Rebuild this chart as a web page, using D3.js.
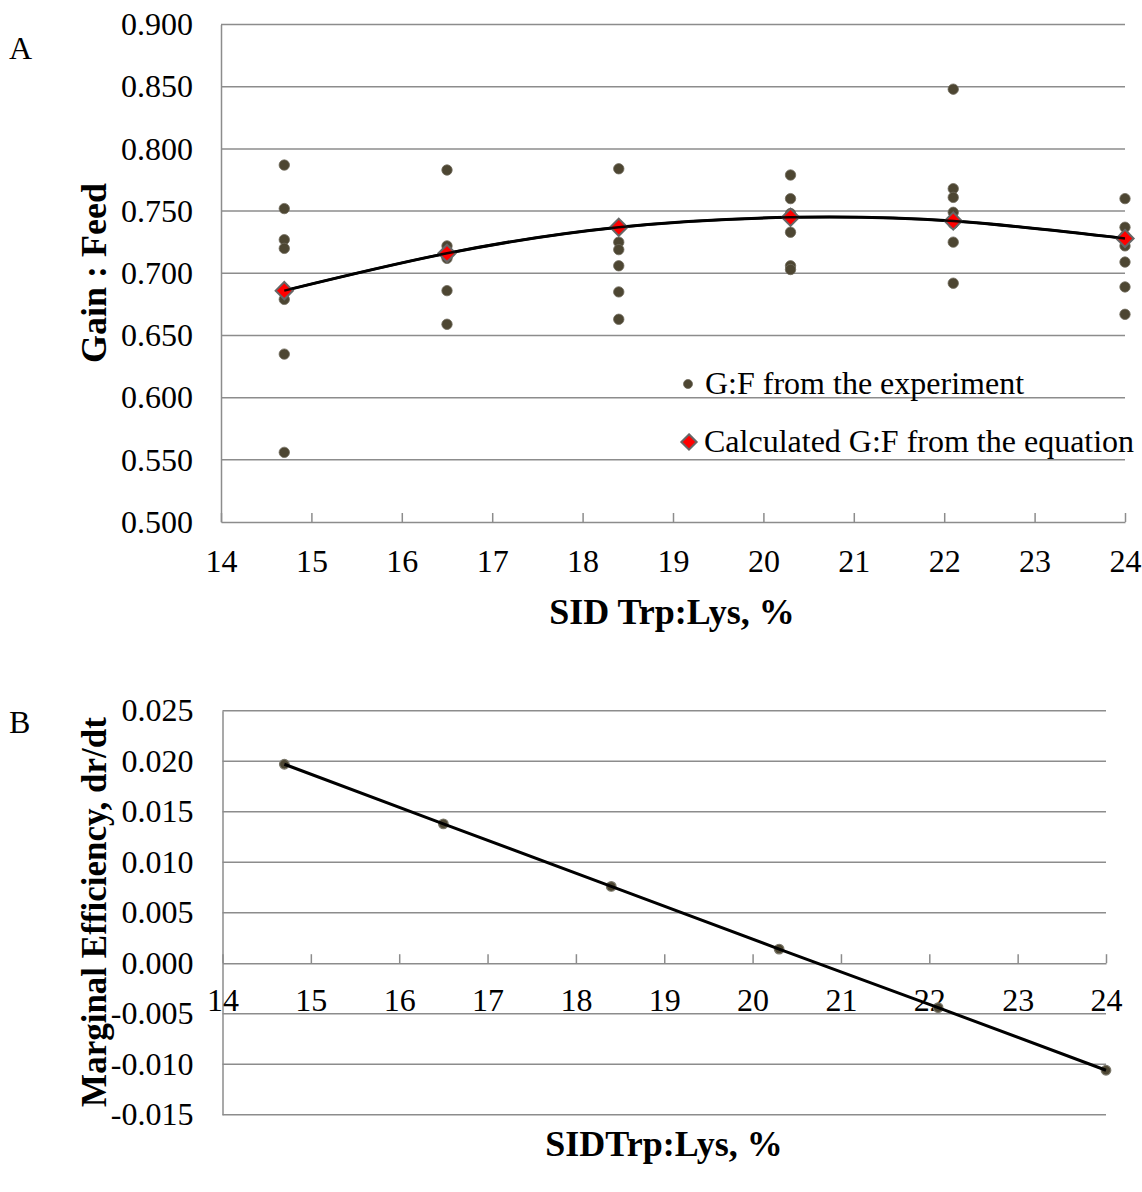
<!DOCTYPE html>
<html>
<head>
<meta charset="utf-8">
<script src="https://cdn.jsdelivr.net/npm/d3@7"></script>
<style>
  html, body { margin: 0; padding: 0; background: #fff; }
  svg { display: block; }
  text { font-family: "Liberation Serif", "Times New Roman", serif; fill: #000; }
</style>
</head>
<body>
<svg id="chart" width="1142" height="1192"></svg>
<script>
// ---------- DATA ----------
const trpLys = [14.7, 16.5, 18.4, 20.3, 22.1, 24.0];
const gfExp_14_7 = [0.787, 0.752, 0.727, 0.720, 0.679, 0.635, 0.556];
const gfExp_16_5 = [0.783, 0.722, 0.718, 0.714, 0.712, 0.686, 0.659];
const gfExp_18_4 = [0.784, 0.738, 0.725, 0.719, 0.706, 0.685, 0.663];
const gfExp_20_3 = [0.779, 0.760, 0.748, 0.733, 0.706, 0.703];
const gfExp_22_1 = [0.848, 0.768, 0.761, 0.749, 0.740, 0.725, 0.692];
const gfExp_24_0 = [0.760, 0.737, 0.730, 0.722, 0.709, 0.689, 0.667];
const gfExperiment = [gfExp_14_7, gfExp_16_5, gfExp_18_4, gfExp_20_3, gfExp_22_1, gfExp_24_0];
const gfCalculated = [0.686, 0.716, 0.737, 0.745, 0.742, 0.728];
const marginalEff = [0.0197, 0.0138, 0.0076, 0.0014, -0.0044, -0.0106];
const xTicks = [14, 15, 16, 17, 18, 19, 20, 21, 22, 23, 24];
const yTicksA = [0.500, 0.550, 0.600, 0.650, 0.700, 0.750, 0.800, 0.850, 0.900];
const yTicksB = [-0.015, -0.010, -0.005, 0.000, 0.005, 0.010, 0.015, 0.020, 0.025];
const legendLabels = ["G:F from the experiment", "Calculated G:F from the equation"];

// ---------- STYLE ----------
const gridColor = "#8c8c8c";
const dotFill = "#4d4632";
const fmt = v => d3.format(".3f")(v).replace("\u2212", "-");

const svg = d3.select("#chart");

// ================= PANEL A =================
const xA = d3.scaleLinear().domain([14, 24]).range([221, 1125]);
const yA = d3.scaleLinear().domain([0.5, 0.9]).range([522, 24.5]);
const gA = svg.append("g");

// gridlines
gA.append("g").selectAll("line").data(yTicksA.filter(d => d > 0.5)).join("line")
  .attr("x1", xA(14)).attr("x2", xA(24))
  .attr("y1", d => yA(d)).attr("y2", d => yA(d))
  .attr("stroke", gridColor).attr("stroke-width", 1.5);

// y axis
const yAxisA = gA.append("g").attr("transform", `translate(${xA(14)},0)`)
  .call(d3.axisLeft(yA).tickValues(yTicksA).tickSize(0).tickPadding(28).tickFormat(fmt));
yAxisA.select(".domain").attr("stroke", gridColor).attr("stroke-width", 1.5);
yAxisA.selectAll("text").attr("font-size", 32).attr("font-family", "Liberation Serif").attr("fill", "#000");

// x axis
const xAxisA = gA.append("g").attr("transform", `translate(0,${yA(0.5)})`)
  .call(d3.axisBottom(xA).tickValues(xTicks).tickSize(0).tickPadding(0).tickFormat(d3.format("d")));
xAxisA.select(".domain").attr("stroke", gridColor).attr("stroke-width", 1.5);
xAxisA.selectAll(".tick line").attr("y2", -9).attr("stroke", gridColor).attr("stroke-width", 1.5);
xAxisA.selectAll("text").attr("font-size", 32).attr("font-family", "Liberation Serif").attr("fill", "#000")
  .attr("dy", null).attr("y", 50);

// observed dots
const obsPts = [];
trpLys.forEach((x, i) => gfExperiment[i].forEach(v => obsPts.push([x, v])));
gA.append("g").selectAll("circle").data(obsPts).join("circle")
  .attr("cx", d => xA(d[0])).attr("cy", d => yA(d[1])).attr("r", 5.2)
  .attr("fill", dotFill).attr("stroke", "#6e6a5c").attr("stroke-width", 0.8);

// fitted curve
const calcPts = trpLys.map((x, i) => [x, gfCalculated[i]]);
gA.append("path").datum(calcPts)
  .attr("d", d3.line().x(d => xA(d[0])).y(d => yA(d[1])).curve(d3.curveNatural))
  .attr("fill", "none").attr("stroke", "#000").attr("stroke-width", 3);

// diamonds
const diamond = d3.symbol().type(d3.symbolDiamond2).size(190);
gA.append("g").selectAll("path").data(calcPts).join("path")
  .attr("transform", d => `translate(${xA(d[0])},${yA(d[1])}) rotate(0)`)
  .attr("d", diamond)
  .attr("fill", "#ff0000").attr("stroke", "#666").attr("stroke-width", 2);
// redraw line segment over diamonds center lightly (line passes through)
gA.append("path").datum(calcPts)
  .attr("d", d3.line().x(d => xA(d[0])).y(d => yA(d[1])).curve(d3.curveNatural))
  .attr("fill", "none").attr("stroke", "#000").attr("stroke-width", 2.5).attr("opacity", 0.9);

// legend
const lg = gA.append("g");
lg.append("circle").attr("cx", 688).attr("cy", 384).attr("r", 4.5)
  .attr("fill", dotFill).attr("stroke", "#6e6a5c").attr("stroke-width", 0.8);
lg.append("text").attr("x", 705).attr("y", 394).attr("font-size", 32).text(legendLabels[0]);
lg.append("path").attr("transform", "translate(689,442)").attr("d", d3.symbol().type(d3.symbolDiamond2).size(150))
  .attr("fill", "#ff0000").attr("stroke", "#666").attr("stroke-width", 2);
lg.append("text").attr("x", 704).attr("y", 452).attr("font-size", 32).text(legendLabels[1]);

// titles
svg.append("text").attr("x", 9).attr("y", 59).attr("font-size", 32).text("A");
svg.append("text").attr("transform", "translate(106,273) rotate(-90)")
  .attr("text-anchor", "middle").attr("font-size", 36).attr("font-weight", "bold").text("Gain : Feed");
svg.append("text").attr("x", 672).attr("y", 624)
  .attr("text-anchor", "middle").attr("font-size", 36).attr("font-weight", "bold").text("SID Trp:Lys, %");

// ================= PANEL B =================
const xB = d3.scaleLinear().domain([14, 24]).range([222.5, 1106]);
const yB = d3.scaleLinear().domain([-0.015, 0.025]).range([1114.7, 710.7]);
const gB = svg.append("g");

gB.append("g").selectAll("line").data(yTicksB.filter(d => Math.abs(d) > 1e-9)).join("line")
  .attr("x1", xB(14)).attr("x2", xB(24))
  .attr("y1", d => yB(d)).attr("y2", d => yB(d))
  .attr("stroke", gridColor).attr("stroke-width", 1.5);

const yAxisB = gB.append("g").attr("transform", `translate(${xB(14)},0)`)
  .call(d3.axisLeft(yB).tickValues(yTicksB).tickSize(0).tickPadding(29).tickFormat(fmt));
yAxisB.select(".domain").attr("stroke", gridColor).attr("stroke-width", 1.5);
yAxisB.selectAll("text").attr("font-size", 32).attr("font-family", "Liberation Serif").attr("fill", "#000");

const xAxisB = gB.append("g").attr("transform", `translate(0,${yB(0)})`)
  .call(d3.axisBottom(xB).tickValues(xTicks).tickSize(0).tickPadding(0).tickFormat(d3.format("d")));
xAxisB.select(".domain").attr("stroke", gridColor).attr("stroke-width", 1.5);
xAxisB.selectAll(".tick line").attr("y2", -9).attr("stroke", gridColor).attr("stroke-width", 1.5);
xAxisB.selectAll("text").attr("font-size", 32).attr("font-family", "Liberation Serif").attr("fill", "#000")
  .attr("dy", null).attr("y", 48);

const mePts = trpLys.map((x, i) => [x, marginalEff[i]]);
gB.append("g").selectAll("circle").data(mePts).join("circle")
  .attr("cx", d => xB(d[0])).attr("cy", d => yB(d[1])).attr("r", 4.8)
  .attr("fill", dotFill).attr("stroke", "#7a776a").attr("stroke-width", 1.2);
gB.append("path").datum(mePts)
  .attr("d", d3.line().x(d => xB(d[0])).y(d => yB(d[1])))
  .attr("fill", "none").attr("stroke", "#000").attr("stroke-width", 3);

svg.append("text").attr("x", 9).attr("y", 733).attr("font-size", 32).text("B");
svg.append("text").attr("transform", "translate(106,912) rotate(-90)")
  .attr("text-anchor", "middle").attr("font-size", 35).attr("font-weight", "bold").text("Marginal Efficiency, dr/dt");
svg.append("text").attr("x", 664).attr("y", 1156)
  .attr("text-anchor", "middle").attr("font-size", 36).attr("font-weight", "bold").text("SIDTrp:Lys, %");
</script>
</body>
</html>
